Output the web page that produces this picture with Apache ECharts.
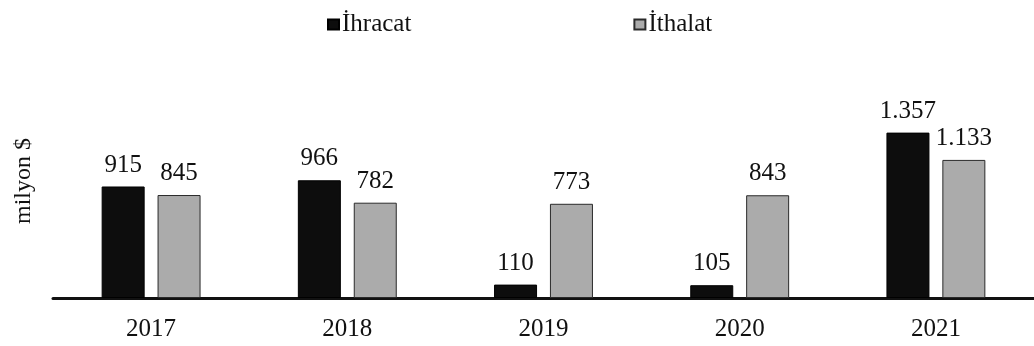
<!DOCTYPE html>
<html>
<head>
<meta charset="utf-8">
<script src="https://cdn.jsdelivr.net/npm/echarts@6/dist/echarts.min.js"></script>
<style>
  html, body { margin: 0; padding: 0; background: #fff; }
  #chart { width: 1034px; height: 346px; }
</style>
</head>
<body>
<div id="chart"></div>
<script>
// Yearly trade figures, million US$
const years = ['2017', '2018', '2019', '2020', '2021'];
const ihracat = [915, 966, 110, 105, 1357];
const ithalat = [845, 782, 773, 843, 1133];
const seriesNames = ['İhracat', 'İthalat'];
const unitLabel = 'milyon $';

const FONT = '"Liberation Serif", "DejaVu Serif", serif';

// Turkish grouping: dot as thousands separator
function fmt(v) {
  return String(v).replace(/\B(?=(\d{3})+(?!\d))/g, '.');
}

const labelStyle = {
  show: true,
  position: 'top',
  distance: 9,
  fontFamily: FONT,
  fontSize: 25,
  color: '#111',
  formatter: p => fmt(p.value)
};

const chart = echarts.init(document.getElementById('chart'), null, { renderer: 'canvas' });
chart.setOption({
  animation: false,
  backgroundColor: '#fff',
  legend: {
    left: 322,
    top: 7,
    itemGap: 222,
    itemWidth: 11,
    itemHeight: 10,
    icon: 'rect',
    textStyle: { fontFamily: FONT, fontSize: 25, color: '#111', padding: [0, 0, 0, -2] },
    data: seriesNames
  },
  grid: { left: 53, top: 103, width: 983, height: 195, containLabel: false },
  xAxis: {
    type: 'category',
    data: years,
    axisLine: { show: true, lineStyle: { color: '#111', width: 3 } },
    axisTick: { show: false },
    axisLabel: { fontFamily: FONT, fontSize: 25, color: '#111', margin: 19 }
  },
  yAxis: {
    type: 'value',
    min: 0,
    max: 1600,
    axisLine: { show: false },
    axisTick: { show: false },
    axisLabel: { show: false },
    splitLine: { show: false }
  },
  graphic: [{
    type: 'text',
    x: 24,
    y: 181,
    rotation: Math.PI / 2,
    style: {
      text: unitLabel,
      fontFamily: FONT,
      fontSize: 24,
      fill: '#111',
      align: 'center',
      verticalAlign: 'middle'
    }
  }],
  series: [
    {
      name: seriesNames[0],
      type: 'bar',
      data: ihracat,
      barWidth: 43,
      barGap: '30%',
      itemStyle: { color: '#0d0d0d', borderColor: '#000', borderWidth: 1 },
      label: labelStyle
    },
    {
      name: seriesNames[1],
      type: 'bar',
      data: ithalat,
      barWidth: 43,
      itemStyle: { color: '#ababab', borderColor: '#2a2a2a', borderWidth: 1 },
      label: labelStyle
    }
  ]
});
</script>
</body>
</html>
